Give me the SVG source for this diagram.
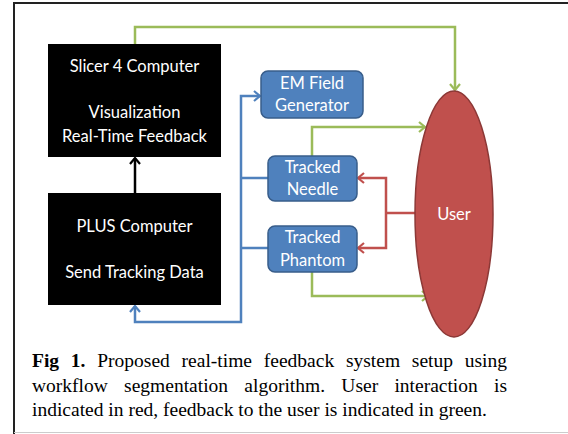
<svg xmlns="http://www.w3.org/2000/svg" width="568" height="434" viewBox="0 0 568 434">
<defs>
<style>
.box{fill:#000}
.node{fill:#4F81BD;stroke:#385D8A;stroke-width:1.5}
.lbl{font-family:Lato,"Liberation Sans",sans-serif;font-size:16.5px;fill:#fff;text-anchor:middle}
.c{fill:none;stroke-width:2.5}
.blue{stroke:#4F81BD}
.green{stroke:#9BBB59}
.red{stroke:#C0504D}
.cap{font-family:"Liberation Serif","Times New Roman",serif;font-size:19.5px;fill:#000}
</style>
<marker id="ab" viewBox="0 0 12 12" refX="10" refY="6" markerWidth="12" markerHeight="12" markerUnits="userSpaceOnUse" orient="auto-start-reverse"><path d="M4,1 L10,6 L4,11" fill="none" stroke="#4F81BD" stroke-width="2.2"/></marker>
<marker id="ag" viewBox="0 0 12 12" refX="10" refY="6" markerWidth="12" markerHeight="12" markerUnits="userSpaceOnUse" orient="auto-start-reverse"><path d="M4,1 L10,6 L4,11" fill="none" stroke="#9BBB59" stroke-width="2.2"/></marker>
<marker id="ar" viewBox="0 0 12 12" refX="10" refY="6" markerWidth="12" markerHeight="12" markerUnits="userSpaceOnUse" orient="auto-start-reverse"><path d="M4,1 L10,6 L4,11" fill="none" stroke="#C0504D" stroke-width="2.2"/></marker>
<marker id="ak" viewBox="0 0 12 12" refX="10" refY="6" markerWidth="12" markerHeight="12" markerUnits="userSpaceOnUse" orient="auto-start-reverse"><path d="M4,1 L10,6 L4,11" fill="none" stroke="#000" stroke-width="2.2"/></marker>
</defs>
<rect width="568" height="434" fill="#fff"/>
<path d="M14,434 V3 H568" fill="none" stroke="#222" stroke-width="2"/>
<path d="M14,432.5 H568" fill="none" stroke="#ccc" stroke-width="1"/>

<g id="connectors">
<path class="c" stroke="#000" d="M135,193 V158" marker-end="url(#ak)"/>
<path class="c green" d="M135,44 V27 H455 V90" marker-end="url(#ag)"/>
<path class="c blue" d="M135,306 V322 H241 V96 H260" marker-start="url(#ab)" marker-end="url(#ab)"/>
<path class="c blue" d="M241,178 H268 M241,248 H268"/>
<path class="c green" d="M312,156 V127 H425" marker-end="url(#ag)"/>
<path class="c green" d="M312,272 V296 H428" marker-end="url(#ag)"/>
<path class="c red" d="M358,178 H386 V248 H358" marker-start="url(#ar)" marker-end="url(#ar)"/>
<path class="c red" d="M416,213 H386"/>
</g>

<g id="slicer">
<rect class="box" x="48" y="44" width="173" height="113"/>
<text class="lbl" x="134.5" y="72">Slicer 4 Computer</text>
<text class="lbl" x="134.5" y="118">Visualization</text>
<text class="lbl" x="134.5" y="142">Real-Time Feedback</text>
</g>

<g id="plus">
<rect class="box" x="48" y="193" width="173" height="112"/>
<text class="lbl" x="134.5" y="232">PLUS Computer</text>
<text class="lbl" x="134.5" y="278">Send Tracking Data</text>
</g>

<g id="em">
<rect class="node" x="261" y="71" width="102" height="47" rx="7"/>
<text class="lbl" x="312" y="89">EM Field</text>
<text class="lbl" x="312" y="111">Generator</text>
</g>

<g id="needle">
<rect class="node" x="268" y="156" width="89" height="45" rx="7"/>
<text class="lbl" x="312.5" y="173">Tracked</text>
<text class="lbl" x="312.5" y="195">Needle</text>
</g>

<g id="phantom">
<rect class="node" x="268" y="226" width="89" height="46" rx="7"/>
<text class="lbl" x="312.5" y="243">Tracked</text>
<text class="lbl" x="312.5" y="266">Phantom</text>
</g>

<g id="user">
<ellipse cx="454" cy="214" rx="39" ry="123" fill="#C0504D" stroke="#8C3836" stroke-width="1.5"/>
<text class="lbl" x="454" y="220">User</text>
</g>

<g id="caption">
<text class="cap" x="32" y="367" word-spacing="6.9"><tspan font-weight="bold">Fig 1.</tspan> Proposed real-time feedback system setup using</text>
<text class="cap" x="32" y="392" word-spacing="11.4">workflow segmentation algorithm. User interaction is</text>
<text class="cap" x="32" y="416">indicated in red, feedback to the user is indicated in green.</text>
</g>
</svg>
